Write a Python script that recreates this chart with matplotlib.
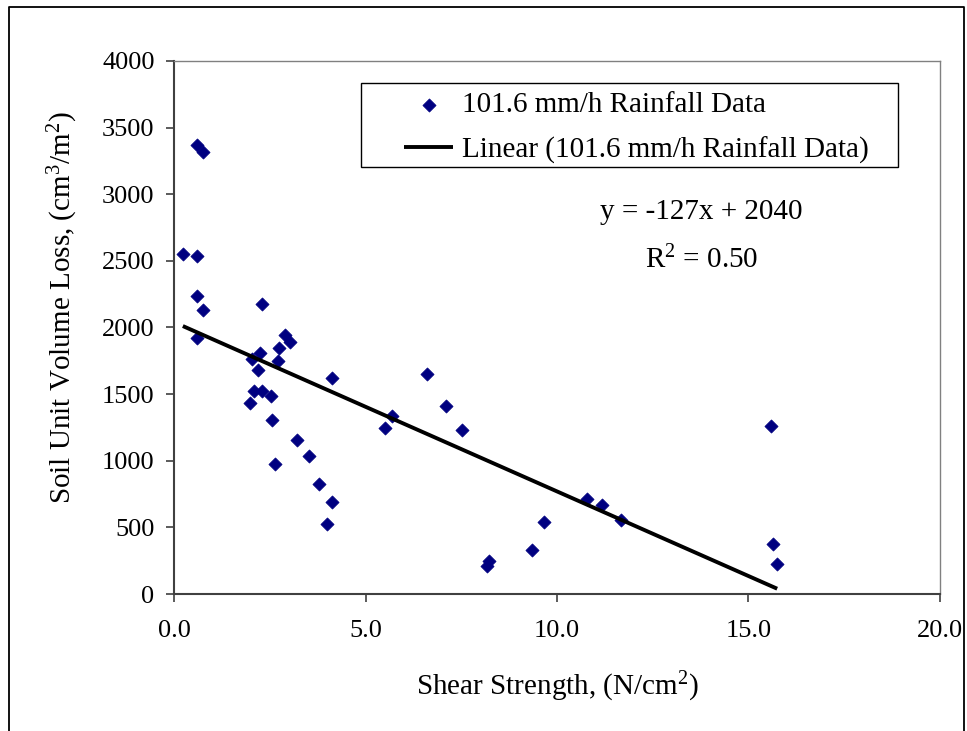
import numpy as np
import matplotlib
matplotlib.use("Agg")
import matplotlib.pyplot as plt
from matplotlib.lines import Line2D
from matplotlib.patches import Rectangle
from matplotlib.ticker import MultipleLocator, FormatStrFormatter

plt.rcParams['font.family'] = ['Liberation Serif', 'DejaVu Serif']
plt.rcParams['mathtext.fontset'] = 'custom'
plt.rcParams['mathtext.rm'] = 'Liberation Serif'
plt.rcParams['mathtext.it'] = 'Liberation Serif:italic'

# shear strength (N/cm2) vs soil unit volume loss (cm3/m2)
shear = [0.23, 0.60, 0.76, 0.60, 0.60, 0.76, 0.60, 2.30, 2.04, 2.25,
         2.19, 2.09, 2.30, 2.52, 1.98, 2.56, 2.64, 2.72, 2.75, 2.91,
         3.03, 3.22, 3.53, 3.79, 3.99, 4.13, 4.13, 5.52, 5.69, 6.60,
         7.10, 7.51, 8.16, 8.22, 9.35, 9.66, 10.79, 11.17, 11.66, 15.60,
         15.64, 15.75]
volume_loss = [2551, 3370, 3317, 2537, 2236, 2131, 1921, 2176, 1766, 1806,
               1681, 1526, 1523, 1484, 1436, 1304, 976, 1746, 1844, 1944,
               1891, 1156, 1036, 828, 528, 690, 1623, 1246, 1338, 1653,
               1413, 1231, 212, 244, 330, 540, 710, 666, 558, 1263,
               377, 227]

# trendline as printed on the chart
slope = -127
intercept = 2040
r_squared = 0.50

TICK_FS = 19
FS = 21

fig = plt.figure(figsize=(9.67, 7.31), dpi=100)
ax = fig.add_axes([0.18, 0.1874, 0.792, 0.7292])

ax.scatter(shear, volume_loss, marker='D', s=45, color='#000080',
           edgecolor='#000080', linewidth=0.5, zorder=3,
           label='101.6 mm/h Rainfall Data')

x_fit = np.array([min(shear), max(shear)])
ax.plot(x_fit, slope * x_fit + intercept, color='black', lw=2.8,
        solid_capstyle='butt', zorder=4,
        label='Linear (101.6 mm/h Rainfall Data)')

ax.set_xlim(0, 20)
ax.set_ylim(0, 4000)
ax.xaxis.set_major_locator(MultipleLocator(5))
ax.yaxis.set_major_locator(MultipleLocator(500))
ax.xaxis.set_major_formatter(FormatStrFormatter('%.1f'))

for side in ['left', 'bottom']:
    ax.spines[side].set_color('#404040')
    ax.spines[side].set_linewidth(1.5)
for side in ['top', 'right']:
    ax.spines[side].set_color('#808080')
    ax.spines[side].set_linewidth(1.0)

ax.tick_params(axis='both', direction='out', length=6, width=1.2,
               color='#404040', labelsize=TICK_FS)
ax.tick_params(axis='x', pad=13)
ax.tick_params(axis='y', pad=8)

ax.set_xlabel('Shear Strength, (N/cm$^2$)', fontsize=FS, labelpad=20)
ax.set_ylabel('Soil Unit Volume Loss, (cm$^3$/m$^2$)', fontsize=FS, labelpad=16)
ax.yaxis.label.set_y(0.538)

# legend: Excel-style box with wide left margin, drawn separately
leg = ax.legend(loc='upper left', bbox_to_anchor=(0.300, 0.942),
                fontsize=FS, frameon=False,
                handlelength=1.7, handletextpad=0.3, borderpad=0,
                labelspacing=0.62, borderaxespad=0)
ax.add_patch(Rectangle((0.244, 0.801), 0.701, 0.158, transform=ax.transAxes,
                       facecolor='white', edgecolor='black', lw=1.0,
                       zorder=5))
leg.set_zorder(6)

ax.text(0.689, 0.717, 'y = -127x + 2040', transform=ax.transAxes,
        fontsize=FS, ha='center', va='center')
ax.text(0.689, 0.627, 'R$^2$ = %.2f' % r_squared, transform=ax.transAxes,
        fontsize=FS, ha='center', va='center')

# outer chart border (open at the bottom, as cropped in the source)
bx0, bx1, by1 = 9 / 967, 964 / 967, 1 - 7 / 731
fig.add_artist(Line2D([bx0, bx0, bx1, bx1], [0, by1, by1, 0],
                      transform=fig.transFigure, color='black', lw=1.3))

fig.savefig('out.png', dpi=100)
